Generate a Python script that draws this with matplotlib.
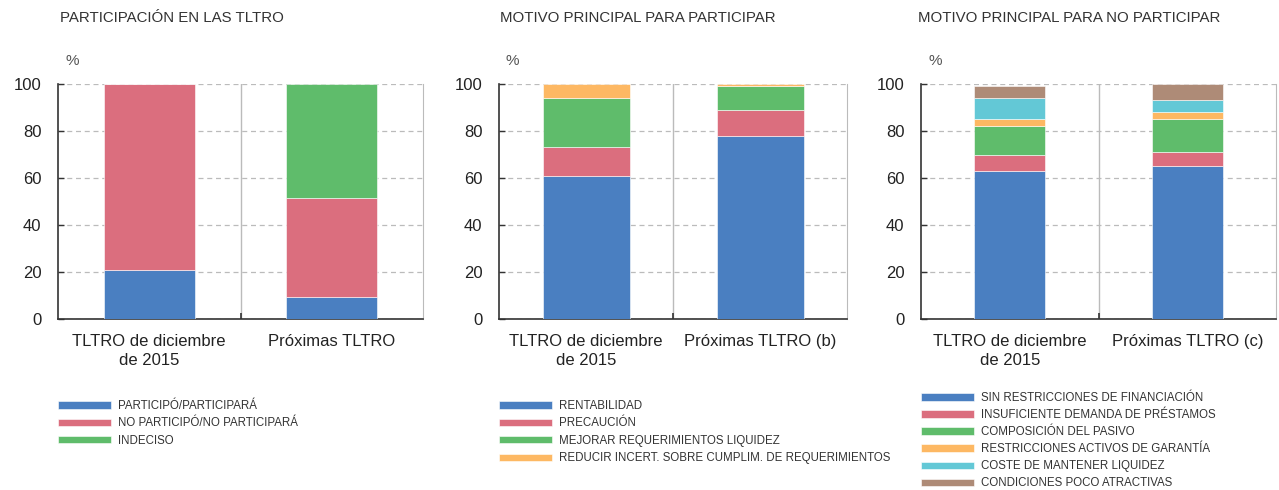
import matplotlib
matplotlib.use("Agg")
import matplotlib.pyplot as plt
from matplotlib import font_manager
import numpy as np

# --- data -----------------------------------------------------------------
cats_1 = ["TLTRO de diciembre\nde 2015", "Próximas TLTRO"]
cats_2 = ["TLTRO de diciembre\nde 2015", "Próximas TLTRO (b)"]
cats_3 = ["TLTRO de diciembre\nde 2015", "Próximas TLTRO (c)"]

labels_1 = ["PARTICIPÓ/PARTICIPARÁ", "NO PARTICIPÓ/NO PARTICIPARÁ", "INDECISO"]
values_1 = [
    [21, 9.5],
    [79, 42],
    [0, 48.5],
]

labels_2 = ["RENTABILIDAD", "PRECAUCIÓN", "MEJORAR REQUERIMIENTOS LIQUIDEZ",
            "REDUCIR INCERT. SOBRE CUMPLIM. DE REQUERIMIENTOS"]
values_2 = [
    [61, 78],
    [12, 11],
    [21, 10],
    [6, 1],
]

labels_3 = ["SIN RESTRICCIONES DE FINANCIACIÓN", "INSUFICIENTE DEMANDA DE PRÉSTAMOS",
            "COMPOSICIÓN DEL PASIVO", "RESTRICCIONES ACTIVOS DE GARANTÍA",
            "COSTE DE MANTENER LIQUIDEZ", "CONDICIONES POCO ATRACTIVAS"]
values_3 = [
    [63, 65],
    [7, 6],
    [12, 14],
    [3, 3],
    [9, 5],
    [5, 7],
]

titles = ["PARTICIPACIÓN EN LAS TLTRO", "MOTIVO PRINCIPAL PARA PARTICIPAR",
          "MOTIVO PRINCIPAL PARA NO PARTICIPAR"]

colors = ["#4A7FC1", "#DB6E7E", "#5FBC6B", "#FDB863", "#63C8D6", "#AE8B77"]

# --- fonts ----------------------------------------------------------------
names = {f.name for f in font_manager.fontManager.ttflist}
main_font = "Liberation Sans" if "Liberation Sans" in names else "DejaVu Sans"
narrow_font = "Liberation Sans Narrow" if "Liberation Sans Narrow" in names else main_font
plt.rcParams["font.family"] = [main_font, "DejaVu Sans"]
leg_size = 9.5 if narrow_font != main_font else 8.3

fig = plt.figure(figsize=(12.79, 4.90), dpi=100)

W, H = 1279, 490
panels = [
    # left px, right px, bar width, cats, labels, values, legend top px, spacing, title x px
    (58, 423, 0.5, cats_1, labels_1, values_1, 400, 0.47, 60),
    (499, 847, 0.5, cats_2, labels_2, values_2, 400, 0.47, 500),
    (921, 1276, 0.4, cats_3, labels_3, values_3, 392, 0.44, 918),
]
ax_top, ax_bot = 84, 319

for i, (lpx, rpx, bw, cats, labels, values, leg_top, lspace, title_x) in enumerate(panels):
    ax = fig.add_axes([lpx / W, 1 - ax_bot / H, (rpx - lpx) / W, (ax_bot - ax_top) / H])
    x = np.arange(len(cats))
    bottom = np.zeros(len(cats))
    handles = []
    for j, (lab, vals) in enumerate(zip(labels, values)):
        vals = np.array(vals, dtype=float)
        h = ax.bar(x, vals, bw, bottom=bottom, color=colors[j], label=lab,
                   edgecolor="white", linewidth=0.4, zorder=3)
        handles.append(h)
        bottom += vals

    ax.set_xlim(-0.5, 1.5)
    ax.set_ylim(0, 100)
    ax.set_yticks([0, 20, 40, 60, 80, 100])
    ax.set_xticks(x)
    ax.set_xticks([0.5], minor=True)
    ax.set_xticklabels(cats, fontsize=12, color="#222222", linespacing=1.35)
    ax.tick_params(axis="x", which="major", length=0, pad=11)
    ax.tick_params(axis="x", which="minor", length=4, direction="in",
                   color="#333333", width=1.2)
    ax.tick_params(axis="y", length=4, direction="in", color="#333333", width=1.0,
                   pad=12, labelsize=12, labelcolor="#222222")
    ax.grid(axis="y", linestyle=(0, (4, 3)), color="#BBBBBB", linewidth=0.9, zorder=0)
    ax.axvline(0.5, color="#BBBBBB", linewidth=1.0, zorder=1)
    ax.spines["top"].set_visible(False)
    ax.spines["right"].set_color("#BBBBBB")
    ax.spines["left"].set_color("#333333")
    ax.spines["bottom"].set_color("#333333")
    ax.spines["left"].set_linewidth(1.2)
    ax.spines["bottom"].set_linewidth(1.2)

    ax.text(0.02, 1.07, "%", transform=ax.transAxes, fontsize=11,
            color="#555555", ha="left", va="bottom")
    fig.text(title_x / W, 1 - 18 / H, titles[i], fontsize=10.8, color="#333333",
             ha="left", va="center")

    leg = fig.legend(handles=handles, labels=labels, loc="upper left",
                     bbox_to_anchor=(lpx / W, 1 - leg_top / H),
                     frameon=False, handlelength=4.6, handleheight=0.6,
                     handletextpad=0.6, labelspacing=lspace, borderaxespad=0,
                     borderpad=0, prop={"family": narrow_font, "size": leg_size})
    for t in leg.get_texts():
        t.set_color("#333333")

fig.savefig("out.png", dpi=100)
